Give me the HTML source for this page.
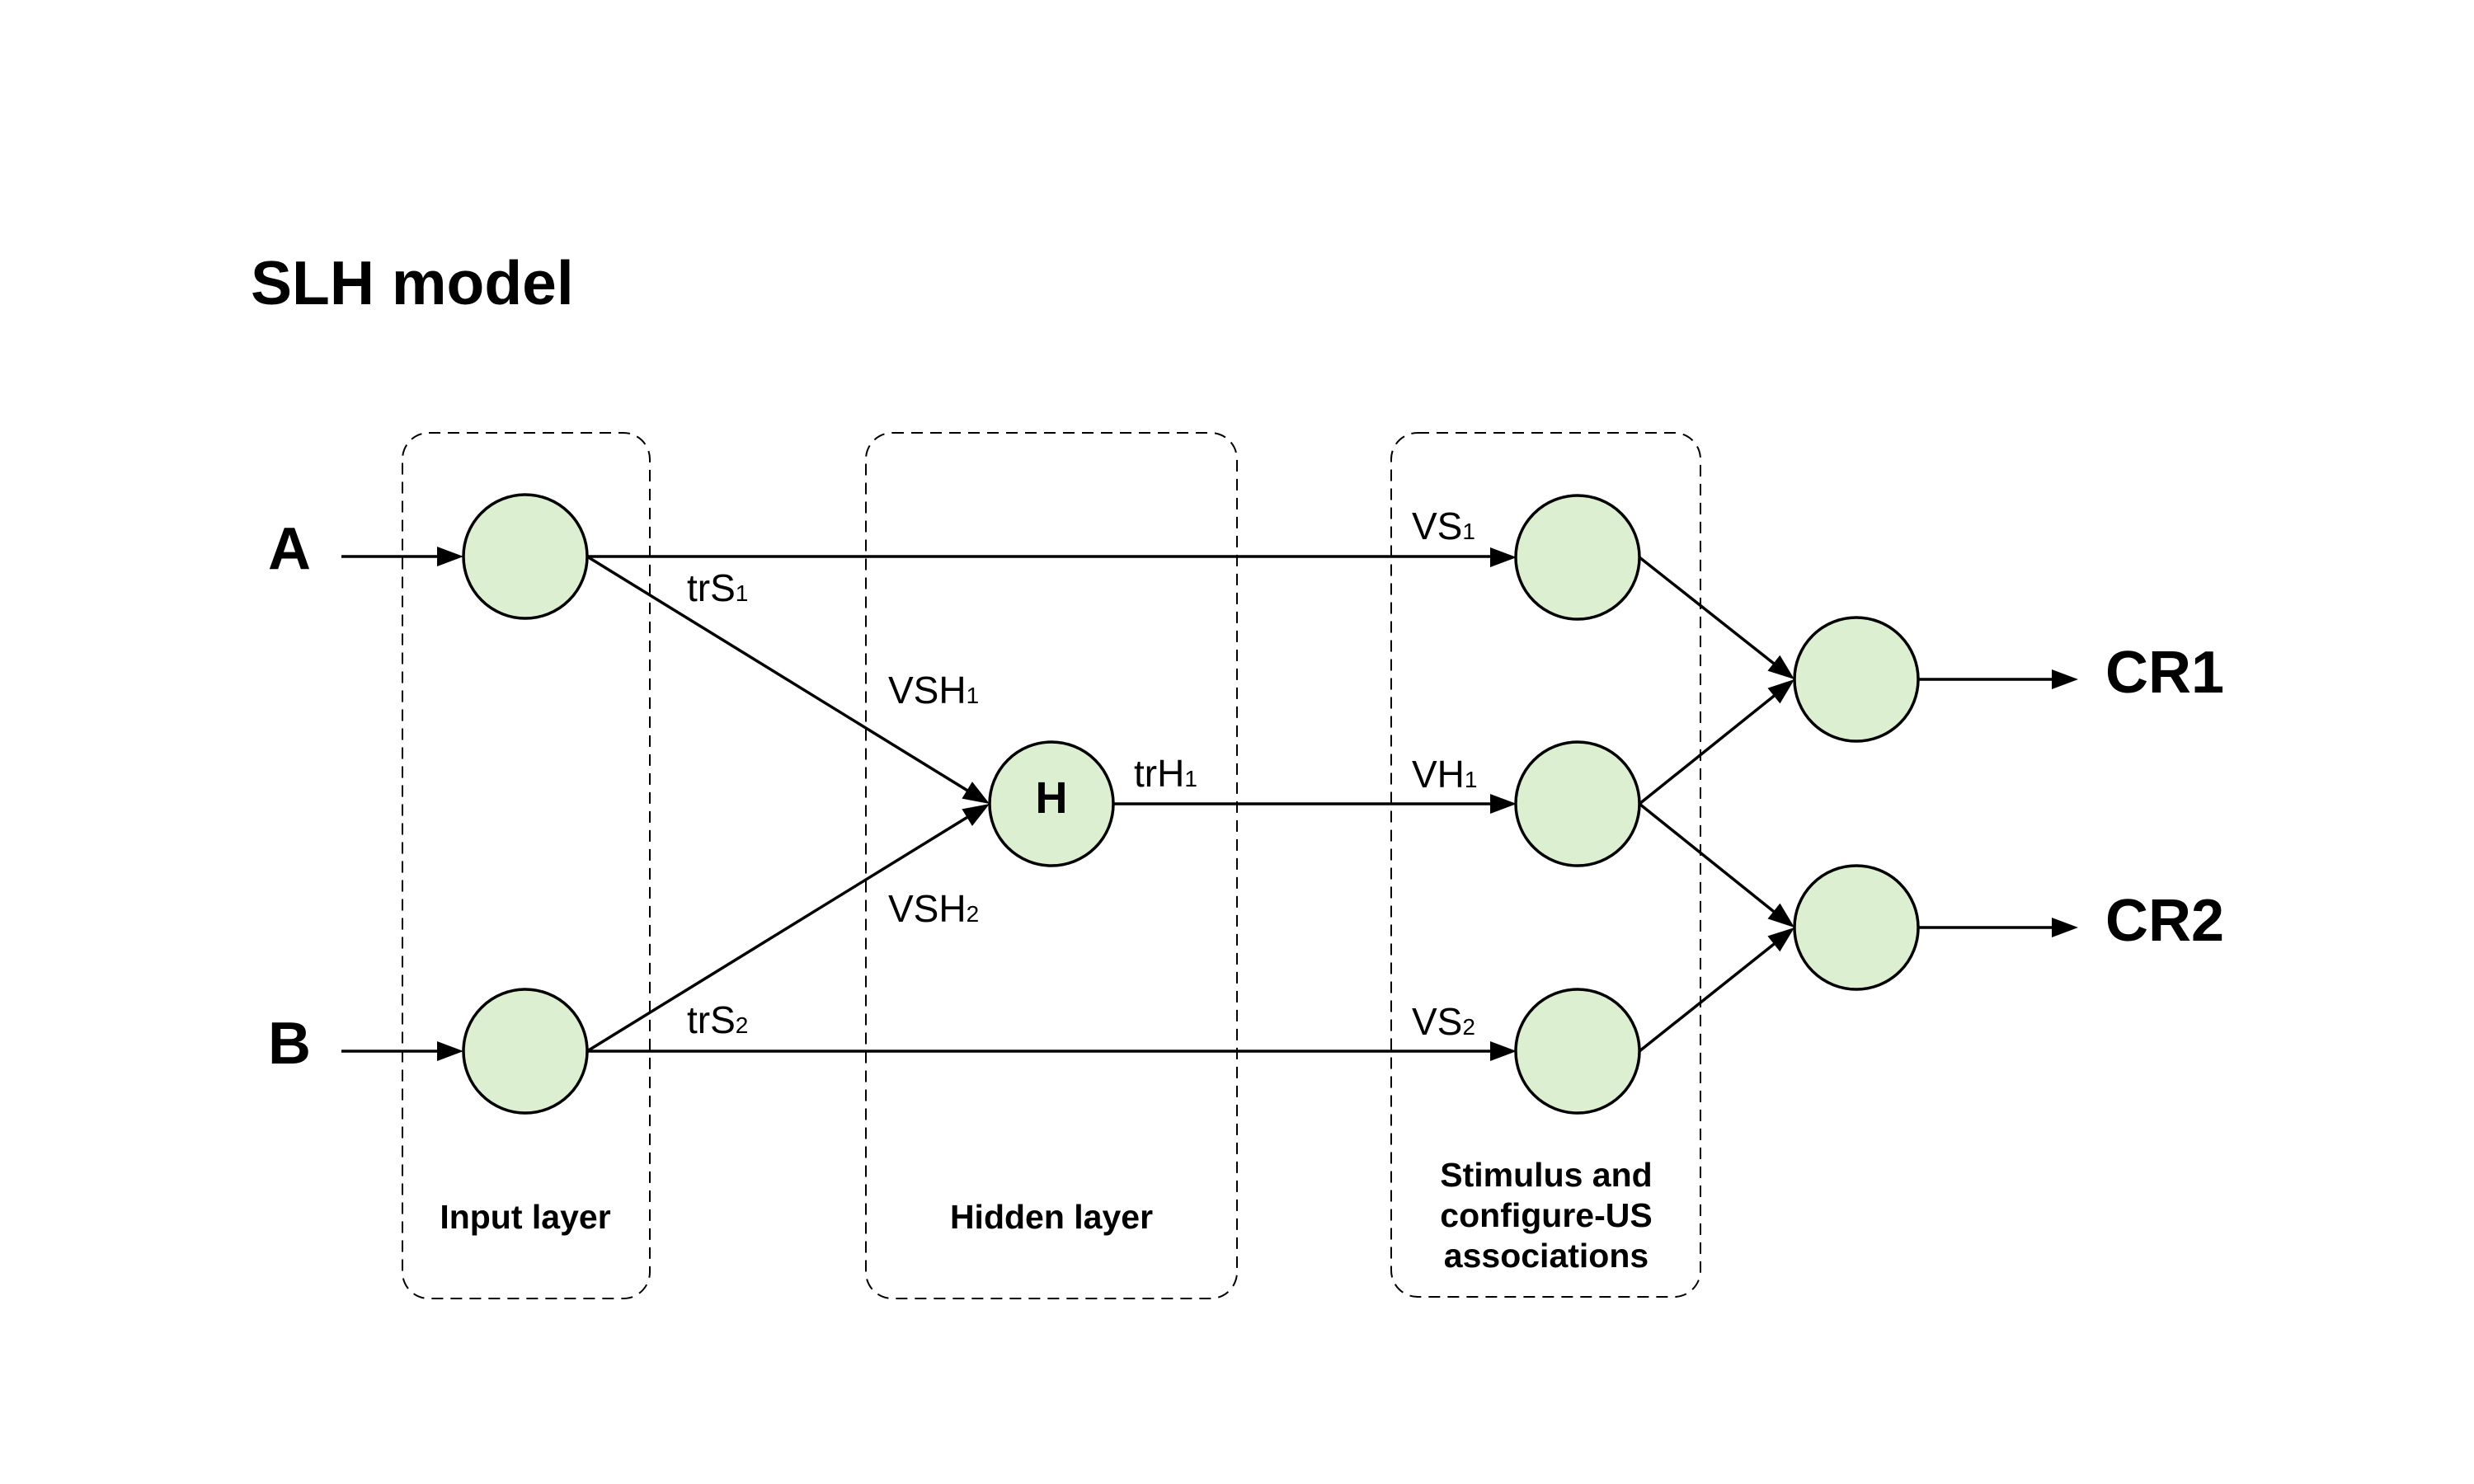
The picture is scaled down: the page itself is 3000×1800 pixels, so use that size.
<!DOCTYPE html>
<html><head><meta charset="utf-8"><style>html,body{margin:0;padding:0;background:#fff}svg{display:block}</style></head>
<body>
<svg width="3000" height="1800" viewBox="0 0 3000 1800" xmlns="http://www.w3.org/2000/svg" font-family="Liberation Sans, Arial, sans-serif">
<rect width="3000" height="1800" fill="#fff"/>
<text x="304" y="369" font-size="75" font-weight="bold">SLH model</text>
<g fill="none" stroke="#000" stroke-width="2" stroke-dasharray="14 9">
<rect x="488" y="525" width="300" height="1050" rx="32"/>
<rect x="1050" y="525" width="450" height="1050" rx="32"/>
<rect x="1687" y="525" width="375" height="1048" rx="32"/>
</g>
<g stroke="#000" stroke-width="3.5" fill="none">
<line x1="414" y1="675" x2="535" y2="675"/>
<line x1="414" y1="1275" x2="535" y2="1275"/>
<line x1="712" y1="675" x2="1810" y2="675"/>
<line x1="712" y1="1275" x2="1810" y2="1275"/>
<line x1="1350" y1="975" x2="1810" y2="975"/>
<line x1="712" y1="675" x2="1175" y2="960"/>
<line x1="712" y1="1275" x2="1175" y2="990"/>
<line x1="1988" y1="676" x2="2155" y2="808"/>
<line x1="1988" y1="975" x2="2155" y2="841"/>
<line x1="1988" y1="975" x2="2155" y2="1109"/>
<line x1="1988" y1="1275" x2="2155" y2="1142"/>
<line x1="2326" y1="824" x2="2490" y2="824"/>
<line x1="2326" y1="1125" x2="2490" y2="1125"/>
</g>
<g fill="#000">
<polygon points="562,675 530,663 530,687"/>
<polygon points="562,1275 530,1263 530,1287"/>
<polygon points="1839,676 1807,664 1807,688"/>
<polygon points="1839,975 1807,963 1807,987"/>
<polygon points="1839,1275 1807,1263 1807,1287"/>
<polygon points="2520,824 2488,812 2488,836"/>
<polygon points="2520,1125 2488,1113 2488,1137"/>
<g transform="translate(1200,975) rotate(31.4)"><polygon points="0,0 -32,-12 -32,12"/></g>
<g transform="translate(1200,975) rotate(-31.4)"><polygon points="0,0 -32,-12 -32,12"/></g>
<g transform="translate(2176,824) rotate(38.3)"><polygon points="0,0 -32,-12 -32,12"/></g>
<g transform="translate(2176,824) rotate(-38.6)"><polygon points="0,0 -32,-12 -32,12"/></g>
<g transform="translate(2176,1125) rotate(38.6)"><polygon points="0,0 -32,-12 -32,12"/></g>
<g transform="translate(2176,1125) rotate(-38.3)"><polygon points="0,0 -32,-12 -32,12"/></g>
</g>
<g fill="#dcefd0" stroke="#000" stroke-width="3.5">
<circle cx="637" cy="675" r="75"/>
<circle cx="637" cy="1275" r="75"/>
<circle cx="1275" cy="975" r="75"/>
<circle cx="1913" cy="676" r="75"/>
<circle cx="1913" cy="975" r="75"/>
<circle cx="1913" cy="1275" r="75"/>
<circle cx="2251" cy="824" r="75"/>
<circle cx="2251" cy="1125" r="75"/>
</g>
<text x="1275" y="986" font-size="54" font-weight="bold" text-anchor="middle">H</text>
<g font-size="72" font-weight="bold">
<text x="325" y="690">A</text>
<text x="325" y="1290">B</text>
<text x="2553" y="840">CR1</text>
<text x="2553" y="1141">CR2</text>
</g>
<g font-size="46">
<text x="833" y="729">trS<tspan font-size="28">1</tspan></text>
<text x="833" y="1253">trS<tspan font-size="28">2</tspan></text>
<text x="1077" y="853">VSH<tspan font-size="28">1</tspan></text>
<text x="1077" y="1118">VSH<tspan font-size="28">2</tspan></text>
<text x="1375" y="954">trH<tspan font-size="28">1</tspan></text>
<text x="1712" y="654">VS<tspan font-size="28">1</tspan></text>
<text x="1712" y="955">VH<tspan font-size="28">1</tspan></text>
<text x="1712" y="1255">VS<tspan font-size="28">2</tspan></text>
</g>
<g font-size="41" font-weight="bold" text-anchor="middle">
<text x="637" y="1490">Input layer</text>
<text x="1275" y="1490">Hidden layer</text>
<text x="1875" y="1439">Stimulus and</text>
<text x="1875" y="1488">configure-US</text>
<text x="1875" y="1537">associations</text>
</g>
</svg>
</body></html>
